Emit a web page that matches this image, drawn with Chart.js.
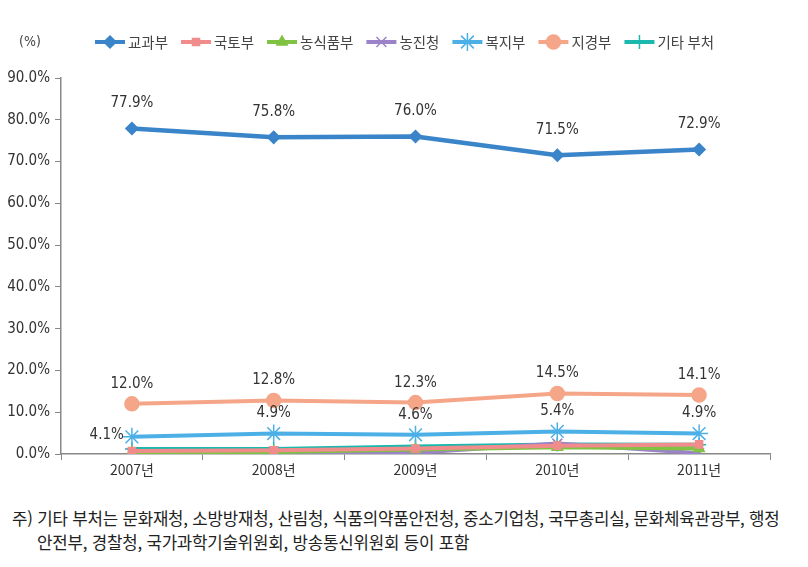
<!DOCTYPE html>
<html lang="ko">
<head>
    <meta charset="UTF-8">
    <title>부처별 비중</title>
    <script src="https://cdn.jsdelivr.net/npm/chart.js"></script>
    <style>
        body {
            margin: 0;
            background: #fff;
            font-family: 'Noto Sans CJK KR', sans-serif;
        }
        .wrap {
            position: relative;
            width: 808px;
            height: 567px;
        }
        .note {
            position: absolute;
            left: 12px;
            top: 506px;
            font-size: 16.8px;
            line-height: 24px;
            color: #222;
            letter-spacing: -0.2px;
            white-space: nowrap;
        }
        .note .indent {
            padding-left: 25px;
        }
    </style>
</head>
<body>
<div class="wrap">
    <canvas id="chart" width="808" height="495"></canvas>
    <div class="note">
        <div>주) 기타 부처는 문화재청, 소방방재청, 산림청, 식품의약품안전청, 중소기업청, 국무총리실, 문화체육관광부, 행정</div>
        <div class="indent">안전부, 경찰청, 국가과학기술위원회, 방송통신위원회 등이 포함</div>
    </div>
</div>

<script>
    const years = ['2007년', '2008년', '2009년', '2010년', '2011년'];
    const yTicks = [0, 10, 20, 30, 40, 50, 60, 70, 80, 90];

    const gyogwa = [77.9, 75.8, 76.0, 71.5, 72.9];   // 교과부
    const gukto = [0.7, 0.9, 1.3, 2.0, 2.3];          // 국토부
    const nongsik = [0.4, 0.5, 1.1, 1.6, 1.3];        // 농식품부
    const nongjin = [0.2, 0.6, 0.3, 2.5, 0.2];        // 농진청
    const bokji = [4.1, 4.9, 4.6, 5.4, 4.9];          // 복지부
    const jigyeong = [12.0, 12.8, 12.3, 14.5, 14.1];  // 지경부
    const gita = [1.2, 1.2, 1.8, 2.3, 2.2];           // 기타 부처

    const numFont = "'DejaVu Sans Condensed', Roboto, sans-serif";
    const krFont = "'Noto Sans CJK KR', sans-serif";

    const series = [
        { label: '교과부', data: gyogwa, color: '#3a84c9', style: 'rectRot', r: 6, labels: true },
        { label: '국토부', data: gukto, color: '#f08c8c', style: 'rect', r: 5 },
        { label: '농식품부', data: nongsik, color: '#80c241', style: 'triangle', r: 6 },
        { label: '농진청', data: nongjin, color: '#9c82c9', style: 'crossRot', r: 7 },
        { label: '복지부', data: bokji, color: '#4cb0e6', style: 'star', r: 9, labels: true },
        { label: '지경부', data: jigyeong, color: '#f5a689', style: 'circle', r: 7, labels: true },
        { label: '기타 부처', data: gita, color: '#1ab8ad', style: 'cross', r: 7 }
    ];

    // value labels above the three big series
    const valueLabels = {
        id: 'valueLabels',
        afterDatasetsDraw(chart) {
            const ctx = chart.ctx;
            ctx.save();
            ctx.font = '15px ' + numFont;
            ctx.fillStyle = '#333';
            ctx.textBaseline = 'middle';
            chart.data.datasets.forEach((ds, i) => {
                if (!ds.showLabels) return;
                const meta = chart.getDatasetMeta(i);
                meta.data.forEach((pt, j) => {
                    const txt = ds.data[j].toFixed(1) + '%';
                    if (ds.label === '복지부' && j === 0) {
                        ctx.textAlign = 'right';
                        ctx.fillText(txt, pt.x - 8, pt.y - 2);
                    } else {
                        ctx.textAlign = 'center';
                        ctx.fillText(txt, pt.x, pt.y - (ds.label === '교과부' ? 25 : 20));
                    }
                });
            });
            ctx.restore();
        }
    };

    // legend: line + marker + name, in one row
    const lineLegend = {
        id: 'lineLegend',
        afterDraw(chart) {
            const ctx = chart.ctx;
            const y = 42;
            ctx.save();
            ctx.font = '14px ' + numFont;
            ctx.fillStyle = '#444';
            ctx.textBaseline = 'middle';
            ctx.textAlign = 'left';
            ctx.fillText('(%)', 19, y);
            ctx.font = '14.5px ' + krFont;
            let x = 95;
            chart.data.datasets.forEach(ds => {
                ctx.strokeStyle = ds.borderColor;
                ctx.fillStyle = ds.borderColor;
                ctx.lineWidth = 4;
                ctx.beginPath();
                ctx.moveTo(x, y);
                ctx.lineTo(x + 30, y);
                ctx.stroke();
                ctx.lineWidth = 1.5;
                Chart.helpers.drawPoint(ctx, {
                    pointStyle: ds.pointStyle,
                    radius: ds.pointRadius,
                    borderWidth: 1.5
                }, x + 15, y);
                ctx.fillStyle = '#444';
                ctx.fillText(ds.label, x + 33, y);
                x += 33 + ctx.measureText(ds.label).width + 13;
            });
            ctx.restore();
        }
    };

    new Chart(document.getElementById('chart'), {
        type: 'line',
        data: {
            labels: years,
            datasets: series.map(s => ({
                label: s.label,
                data: s.data,
                borderColor: s.color,
                backgroundColor: s.color,
                pointBackgroundColor: s.color,
                pointBorderColor: s.color,
                pointStyle: s.style,
                pointRadius: s.r,
                pointBorderWidth: 1.5,
                borderWidth: s.label === '교과부' ? 4.5 : 4,
                tension: 0,
                showLabels: !!s.labels
            }))
        },
        options: {
            responsive: false,
            animation: false,
            layout: { padding: { left: 0, top: 78, right: 38, bottom: 0 } },
            plugins: {
                legend: { display: false },
                tooltip: { enabled: false }
            },
            scales: {
                x: {
                    offset: true,
                    afterFit: s => { s.height = 41; },
                    grid: {
                        offset: true,
                        drawOnChartArea: false,
                        color: '#888',
                        tickLength: 6
                    },
                    border: { color: '#888', width: 1.5 },
                    ticks: {
                        color: '#333',
                        font: { family: krFont, size: 14 },
                        padding: 1
                    }
                },
                y: {
                    min: 0,
                    max: 90,
                    afterFit: s => { s.width = 61; },
                    afterBuildTicks: s => { s.ticks = yTicks.map(v => ({ value: v })); },
                    grid: {
                        drawOnChartArea: false,
                        color: '#888',
                        tickLength: 6
                    },
                    border: { color: '#888', width: 1.5 },
                    ticks: {
                        color: '#333',
                        font: { family: numFont, size: 15 },
                        padding: 5,
                        callback: v => v.toFixed(1) + '%'
                    }
                }
            }
        },
        plugins: [valueLabels, lineLegend]
    });
</script>
</body>
</html>
